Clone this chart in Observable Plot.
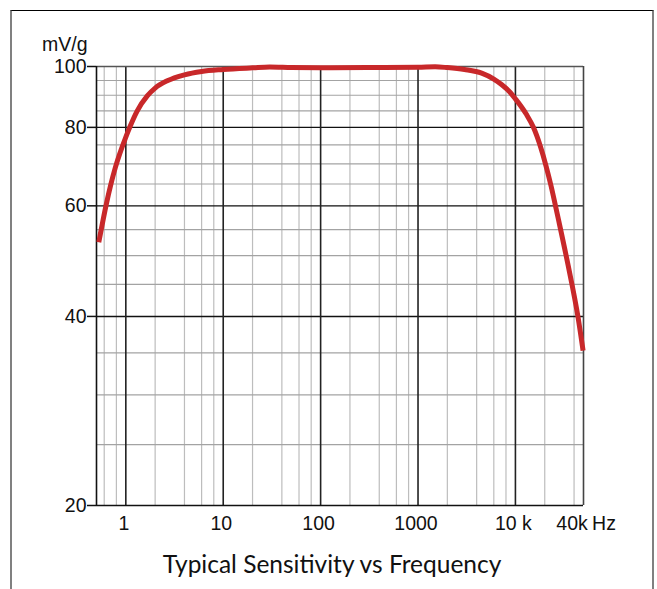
<!DOCTYPE html>
<html>
<head>
<meta charset="utf-8">
<script src="https://cdn.jsdelivr.net/npm/d3@7"></script>
<script src="https://cdn.jsdelivr.net/npm/@observablehq/plot@0.6"></script>
<style>
  body { margin: 0; background: #fff; }
  #wrap { position: relative; width: 657px; height: 589px; overflow: hidden; background: #fff; }
  #border { position: absolute; left: 10px; top: 10px; width: 640px; height: 640px;
            border-left: 2px solid #808080; border-right: 2px solid #808080; border-top: 1px solid #000; }
  #chart { position: absolute; left: 0; top: 0; }
  #title { position: absolute; left: 0; width: 664px; top: 549px; text-align: center;
           font-family: Lato, "Open Sans", sans-serif; font-size: 24.5px; line-height: 30px; color: #111; }
</style>
</head>
<body>
<div id="wrap">
  <div id="border"></div>
  <div id="chart"></div>
  <div id="title">Typical Sensitivity vs Frequency</div>
</div>
<script>
// Frequency (Hz) and sensitivity (mV/g)
const freq = [0.528, 0.634, 0.697, 0.784, 1, 1.1, 1.31, 1.66, 2, 2.66, 4, 6, 10, 20, 30, 50, 100, 300, 1000, 1500, 2000, 3000, 4500, 6000, 7200, 8800, 10000, 12900, 15300, 18100, 20700, 23300, 25600, 27700, 34800, 43800, 49500];
const sens = [52.5, 60.6, 64.6, 69.2, 77.2, 80.1, 85, 89.8, 92.4, 94.9, 97, 98.2, 98.9, 99.5, 99.8, 99.6, 99.5, 99.6, 99.7, 99.9, 99.6, 98.9, 97.6, 95.5, 93.6, 91, 88.8, 84, 80, 74.5, 69.3, 64.4, 60.3, 57, 48.2, 40, 35.3];

const xDomain = [0.5, 50000];
const yDomain = [20, 100];

const xMajor = [1, 10, 100, 1000, 10000];
const xMinor = [0.6, 0.8, 2, 4, 6, 8, 20, 40, 60, 80, 200, 400, 600, 800, 2000, 4000, 6000, 8000, 20000, 40000];
const yMajor = [40, 60, 80];
const yMinor = [25, 30, 35, 45, 50, 55, 65, 70, 75, 85, 90, 95];
const yTicks = [20, 40, 60, 80, 100];

const xTickValues = [1, 10, 100, 1000, 10000, 40000];
const xTickLabels = ["1", "10", "100", "1000", "10 k", "40k"];
const xUnit = "Hz";
const yUnit = "mV/g";

const data = freq.map((f, i) => ({f, s: sens[i]}));
const xTicks = xTickValues.map((v, i) => ({v, label: xTickLabels[i]}));

const FS = 19.5;
const chart = Plot.plot({
  width: 657,
  height: 540,
  marginLeft: 96,
  marginRight: 74,
  marginTop: 66,
  marginBottom: 35,
  style: { fontFamily: "'Liberation Sans', Arial, sans-serif", fontSize: FS + "px", color: "#111", background: "transparent" },
  x: { type: "log", domain: xDomain, axis: null, label: null },
  y: { type: "log", domain: yDomain, axis: null, label: null },
  marks: [
    Plot.ruleX(xMinor, { stroke: "#bdbdbd", strokeWidth: 1.2 }),
    Plot.ruleY(yMinor, { stroke: "#a3a3a3", strokeWidth: 1.2 }),
    Plot.ruleY(yMajor, { stroke: "#111", strokeWidth: 1.4 }),
    Plot.ruleX(xMajor, { stroke: "#222", strokeWidth: 1.6 }),
    Plot.ruleY([yDomain[1]], { stroke: "#555", strokeWidth: 1.6 }),
    Plot.ruleX([xDomain[1]], { stroke: "#444", strokeWidth: 1.6 }),
    Plot.ruleY([yDomain[0]], { stroke: "#111", strokeWidth: 1.6 }),
    Plot.ruleX([xDomain[0]], { stroke: "#111", strokeWidth: 1.6 }),
    Plot.axisY(yTicks, { label: null, tickSize: 9, tickPadding: 1, strokeWidth: 1.5, fontSize: FS, tickFormat: d => String(d) }),
    Plot.text(xTicks, { x: "v", text: "label", fontSize: FS, frameAnchor: "bottom", lineAnchor: "top", dy: 11, dx: -2 }),
    Plot.text([xUnit], { x: xTickValues[xTickValues.length - 1], text: d => d, fontSize: FS, frameAnchor: "bottom", lineAnchor: "top", dy: 11, dx: 18, textAnchor: "start" }),
    Plot.text([yUnit], { frameAnchor: "top-left", text: d => d, fontSize: FS, textAnchor: "end", lineAnchor: "bottom", dx: -9, dy: -16 }),
    Plot.line(data, { x: "f", y: "s", stroke: "#c8282a", strokeWidth: 5, curve: "monotone-x", strokeLinecap: "butt", strokeLinejoin: "round" })
  ]
});
document.getElementById("chart").appendChild(chart);
</script>
</body>
</html>
